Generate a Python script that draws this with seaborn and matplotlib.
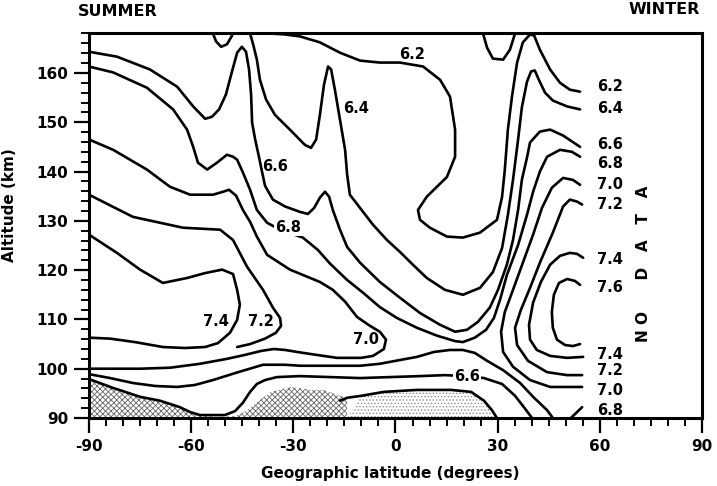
import numpy as np
import pandas as pd
import matplotlib
matplotlib.use("Agg")
import matplotlib.pyplot as plt
import seaborn as sns
from matplotlib.ticker import MultipleLocator

# ---------------- data: contour lines (latitude deg, altitude km) ----------------
c62_dip_w_lat = [-53.6, -52.7, -51.2, -49.5, -48.3, -47.7]
c62_dip_w_alt = [168.0, 166.4, 165.3, 165.8, 167.2, 168.0]

c62_lat = [-36.8, -32.4, -28.0, -22.2, -16.3, -10.4, -4.6, 1.3, 8.1, 13.1, 16.0, 17.5, 17.5, 15.1, 9.2,
           6.6, 7.2, 10.1, 15.1, 19.8, 24.8, 29.8, 31.3, 32.1, 33.0, 34.2, 35.7, 37.4, 39.5, 40.7, 42.4,
           45.4, 48.3, 51.2, 54.2]
c62_alt = [168.0, 167.8, 167.4, 166.2, 164.1, 162.5, 162.1, 162.1, 161.3, 158.6, 155.2, 148.5, 143.0,
           138.9, 134.9, 132.2, 130.2, 128.6, 126.8, 126.6, 127.6, 130.2, 134.9, 140.4, 148.5, 155.2,
           162.1, 166.2, 167.8, 167.6, 164.7, 160.7, 158.0, 156.6, 156.2]

c62_dip_e_lat = [25.7, 26.9, 28.6, 31.6, 33.6, 35.1]
c62_dip_e_alt = [168.0, 165.1, 162.9, 162.7, 164.7, 168.0]

c64_lat = [-42.7, -41.8, -40.7, -39.8, -38.0, -35.4, -31.0, -26.6, -24.8, -23.3, -22.2, -21.0, -19.8,
           -18.9, -17.8, -16.3, -14.8, -14.2, -13.4, -10.4, -6.6, -2.5, 1.3, 5.1, 9.2, 14.5, 19.8, 24.8,
           28.6, 31.3, 33.0, 34.5, 36.0, 37.1, 38.6, 39.8, 40.9, 42.1, 43.9, 46.2, 50.4, 54.2]
c64_alt = [168.0, 165.8, 162.7, 158.6, 154.6, 151.5, 148.5, 145.4, 144.8, 146.5, 151.5, 157.6, 161.3,
           160.7, 156.6, 150.5, 144.4, 139.4, 135.3, 132.6, 129.2, 126.1, 123.7, 121.1, 118.4, 116.0,
           115.0, 116.4, 119.6, 124.5, 131.2, 138.3, 146.5, 153.0, 158.2, 160.3, 160.5, 158.6, 156.0,
           154.4, 153.2, 152.6]

c64_low_lat = [-16.3, -14.2, -10.1, -3.4, 6.3, 16.3, 22.2, 26.0, 28.3, 29.8]
c64_low_alt = [93.5, 94.1, 94.5, 95.3, 95.7, 95.7, 95.3, 93.5, 91.6, 90.0]

c66_lat = [-90.0, -81.8, -72.1, -64.1, -59.4, -55.9, -53.9, -51.8, -49.8, -48.0, -46.5, -45.1, -43.9,
           -43.0, -42.4, -42.1, -41.2, -40.1, -39.2, -38.3, -36.0, -32.4, -28.0, -25.7, -23.9, -22.2,
           -20.7, -19.5, -18.4, -16.3, -14.2, -10.4, -4.6, 1.3, 7.2, 13.1, 17.5, 21.0, 24.2, 27.7, 30.1,
           32.7, 34.5, 36.0, 37.1, 38.6, 39.5, 42.4, 45.4, 49.2, 54.2]
c66_alt = [164.3, 163.3, 160.7, 157.2, 153.2, 150.7, 151.1, 152.6, 155.6, 160.3, 164.1, 165.3, 164.3,
           160.7, 155.6, 149.9, 146.5, 143.0, 140.0, 137.1, 134.3, 132.9, 131.8, 131.4, 132.6, 134.7,
           135.9, 134.9, 132.2, 128.2, 124.7, 121.5, 117.6, 114.4, 111.3, 108.9, 107.5, 107.9, 109.5,
           112.4, 116.0, 121.1, 126.1, 132.2, 138.3, 142.8, 145.9, 148.1, 148.5, 147.3, 145.0]

c66_low_lat = [-90.0, -82.9, -75.0, -69.1, -63.3, -60.3, -57.4, -53.6, -50.1, -47.1, -44.8, -42.7, -40.7,
               -38.3, -34.8, -28.0, -19.2, -10.4, -1.6, 7.2, 14.5, 20.4, 26.0, 31.3, 35.1, 37.7, 40.1]
c66_low_alt = [97.9, 96.1, 94.3, 93.5, 92.2, 91.2, 90.6, 90.6, 90.6, 91.4, 93.1, 95.3, 96.9, 97.7, 98.3,
               98.5, 98.3, 98.1, 98.3, 98.5, 98.7, 98.5, 98.1, 96.9, 94.5, 92.2, 90.0]

c68_lat = [-90.0, -82.9, -73.0, -65.3, -61.2, -59.4, -58.0, -55.3, -52.4, -49.5, -47.7, -46.5, -44.8,
           -42.7, -40.7, -37.7, -33.9, -27.2, -22.8, -19.2, -14.2, -9.5, -4.6, 0.4, 6.3, 12.2, 17.5, 19.8,
           23.3, 26.6, 28.9, 30.7, 32.7, 36.0, 38.6, 40.4, 42.4, 44.5, 48.3, 51.8, 54.2]
c68_alt = [161.3, 160.1, 157.0, 152.6, 148.5, 145.0, 141.8, 140.4, 141.8, 143.4, 143.0, 142.4, 139.8,
           136.3, 132.2, 129.6, 128.2, 126.6, 124.1, 121.3, 118.0, 115.4, 112.5, 110.3, 108.3, 106.7,
           105.6, 105.4, 106.3, 107.9, 110.3, 114.0, 119.0, 125.1, 131.2, 135.9, 140.0, 143.0, 144.4,
           144.0, 143.0]

c68_low_lat = [-90.0, -83.8, -77.1, -70.6, -64.1, -58.9, -53.6, -46.2, -38.9, -32.4, -28.0, -19.2, -10.4,
               -4.6, 1.6, 6.3, 11.3, 16.0, 19.8, 23.3, 26.9, 31.6, 36.6, 40.4, 44.5, 46.2]
c68_low_alt = [98.9, 98.1, 97.1, 96.5, 96.3, 96.7, 97.7, 99.3, 100.8, 100.8, 100.6, 100.6, 100.6, 101.0,
               101.8, 102.4, 103.4, 103.8, 103.8, 103.2, 101.6, 99.7, 97.1, 94.3, 91.6, 90.0]

c68_hook_lat = [51.5, 53.0, 54.8]
c68_hook_alt = [90.0, 91.0, 92.2]

c70_lat = [-90.0, -82.9, -73.0, -66.2, -60.3, -53.6, -50.6, -48.9, -46.8, -44.8, -42.7, -40.7, -37.7,
           -31.0, -22.2, -18.4, -14.8, -11.3, -7.5, -4.6, -2.8, -3.4, -6.6, -10.1, -17.2, -25.1, -28.9,
           -32.4, -35.7, -39.5, -44.2, -49.5, -57.4, -66.2, -75.0, -83.8, -90.0]
c70_alt = [146.5, 144.4, 140.4, 136.9, 135.3, 135.3, 135.9, 136.3, 135.1, 132.2, 129.8, 126.8, 123.1,
           120.1, 117.6, 116.0, 113.6, 110.5, 108.7, 107.5, 105.9, 104.0, 102.6, 102.2, 102.2, 103.0,
           103.4, 103.8, 104.0, 103.6, 102.8, 102.0, 101.0, 100.2, 100.0, 100.0, 100.0]

c70_e_lat = [54.2, 52.1, 49.2, 45.9, 43.0, 40.4, 37.4, 34.5, 32.1, 31.0, 31.6, 34.5, 39.5, 45.4, 54.8]
c70_e_alt = [137.3, 138.3, 138.7, 136.7, 132.6, 127.2, 121.5, 116.0, 111.5, 107.5, 103.4, 100.4, 97.7,
             96.3, 96.3]

c72_lat = [-90.0, -77.1, -62.4, -51.5, -47.7, -43.6, -38.9, -36.0, -33.9, -33.6, -35.1, -38.3, -42.7, -46.5]
c72_alt = [135.3, 130.8, 128.6, 128.2, 126.1, 120.7, 116.0, 112.4, 110.3, 108.7, 107.3, 106.1, 105.0, 104.4]

c72_e_lat = [54.8, 53.3, 51.2, 49.2, 46.2, 42.4, 39.5, 36.8, 35.1, 35.7, 38.9, 44.5, 50.4, 54.8]
c72_e_alt = [133.3, 133.9, 134.3, 132.9, 127.6, 121.5, 116.4, 111.9, 108.3, 104.8, 101.6, 99.3, 98.7, 98.7]

c74_lat = [-90.0, -81.8, -75.0, -68.3, -61.2, -55.9, -50.9, -47.7, -46.5, -45.7, -46.5, -48.6, -52.1,
           -55.9, -61.8, -68.3, -76.5, -83.8, -90.0]
c74_alt = [127.2, 123.5, 120.1, 117.4, 118.4, 119.4, 120.1, 119.2, 116.0, 113.0, 109.9, 107.3, 105.2,
           104.4, 104.2, 104.4, 105.4, 106.1, 106.3]

c74_e_lat = [55.1, 53.3, 51.2, 48.3, 45.4, 42.7, 40.4, 39.2, 39.5, 41.5, 45.4, 50.4, 55.1]
c74_e_alt = [122.5, 123.3, 123.5, 122.9, 121.1, 117.6, 113.4, 108.9, 105.9, 103.8, 102.6, 102.2, 102.4]

c76_e_lat = [54.2, 52.7, 50.4, 48.0, 46.5, 45.9, 46.2, 47.4, 49.8, 52.1, 54.2]
c76_e_alt = [117.0, 117.8, 118.2, 117.4, 115.0, 111.5, 108.3, 105.9, 104.8, 104.6, 105.0]

# stippled region (upper boundary)
stip_lat = [-90.0, -82.9, -75.0, -69.1, -63.3, -60.3, -57.4, -53.0, -47.1, -44.5, -40.4, -36.6, -30.7,
            -24.8, -21.0, -17.2, -14.2, -10.1, -3.4, 6.3, 16.3, 22.2, 26.0, 28.3, 29.8]
stip_alt = [97.9, 96.1, 94.3, 93.5, 92.2, 91.2, 90.6, 90.2, 90.4, 91.2, 93.3, 95.3, 96.3, 95.7, 95.7,
            94.7, 94.1, 94.5, 95.3, 95.7, 95.7, 95.3, 93.5, 91.6, 90.0]

# contour labels
inner_text = ["6.2", "6.4", "6.6", "6.8", "7.4", "7.2", "7.0", "6.6"]
inner_lat = [4.9, -11.6, -35.4, -31.6, -52.7, -39.5, -8.7, 21.0]
inner_alt = [163.7, 152.7, 141.0, 128.6, 109.5, 109.5, 105.9, 98.5]
inner_boxed = [False, False, False, True, False, False, False, True]

right_text = ["6.2", "6.4", "6.6", "6.8", "7.0", "7.2", "7.4", "7.6", "7.4", "7.2", "7.0", "6.8"]
right_alt = [157.2, 152.8, 145.4, 141.6, 137.3, 133.3, 122.1, 116.4, 102.8, 99.7, 95.5, 91.6]
right_lat = 59.2

x_ticks = [-90, -60, -30, 0, 30, 60, 90]
y_ticks = [90, 100, 110, 120, 130, 140, 150, 160]

# ---------------- build table ----------------
lines = [
    ("6.2 dip W", 6.2, c62_dip_w_lat, c62_dip_w_alt),
    ("6.2", 6.2, c62_lat, c62_alt),
    ("6.2 dip E", 6.2, c62_dip_e_lat, c62_dip_e_alt),
    ("6.4", 6.4, c64_lat, c64_alt),
    ("6.4 low", 6.4, c64_low_lat, c64_low_alt),
    ("6.6", 6.6, c66_lat, c66_alt),
    ("6.6 low", 6.6, c66_low_lat, c66_low_alt),
    ("6.8", 6.8, c68_lat, c68_alt),
    ("6.8 low", 6.8, c68_low_lat, c68_low_alt),
    ("6.8 hook", 6.8, c68_hook_lat, c68_hook_alt),
    ("7.0", 7.0, c70_lat, c70_alt),
    ("7.0 E", 7.0, c70_e_lat, c70_e_alt),
    ("7.2", 7.2, c72_lat, c72_alt),
    ("7.2 E", 7.2, c72_e_lat, c72_e_alt),
    ("7.4", 7.4, c74_lat, c74_alt),
    ("7.4 E", 7.4, c74_e_lat, c74_e_alt),
    ("7.6 E", 7.6, c76_e_lat, c76_e_alt),
]
rows = []
for name, lev, la, al in lines:
    for i, (x, y) in enumerate(zip(la, al)):
        rows.append({"line": name, "level": lev, "order": i, "lat": x, "alt": y})
df = pd.DataFrame(rows)

# ---------------- plot ----------------
sns.set_style("ticks")
plt.rcParams["font.family"] = ["DejaVu Sans"]
plt.rcParams["axes.unicode_minus"] = False
plt.rcParams["hatch.linewidth"] = 0.6
for key in ["text.color", "axes.labelcolor", "xtick.color", "ytick.color", "axes.edgecolor"]:
    plt.rcParams[key] = "black"

fig = plt.figure(figsize=(7.17, 4.86), dpi=100)
ax = fig.add_axes([0.1241, 0.1399, 0.855, 0.7912])

sl = np.array(stip_lat)
sa = np.array(stip_alt)
ax.fill_between(sl, 90, sa, where=sl <= -12, interpolate=True, facecolor="none",
                edgecolor="0.4", hatch="xxxxxx", linewidth=0, zorder=1)
ax.fill_between(sl, 90, sa, where=sl >= -12, interpolate=True, facecolor="none",
                edgecolor="0.55", hatch=".....", linewidth=0, zorder=1)

sns.lineplot(data=df, x="lat", y="alt", units="line", estimator=None, sort=False,
             color="black", linewidth=1.9, ax=ax, legend=False, zorder=3,
             solid_joinstyle="round", solid_capstyle="round")

ax.set_xlim(-90, 90)
ax.set_ylim(90, 168)
ax.set_xticks(x_ticks)
ax.set_xticklabels([str(v) for v in x_ticks])
ax.set_yticks(y_ticks)
ax.set_yticklabels([str(v) for v in y_ticks])
ax.xaxis.set_minor_locator(MultipleLocator(5))
ax.yaxis.set_minor_locator(MultipleLocator(2))
ax.tick_params(which="major", direction="out", length=11, width=1.6, labelsize=11, pad=4,
               top=False, right=False, colors="black")
ax.tick_params(which="minor", direction="out", length=6, width=1.4, top=False, right=False,
               colors="black")
for lab in ax.get_xticklabels() + ax.get_yticklabels():
    lab.set_fontweight("bold")
for s in ax.spines.values():
    s.set_visible(True)
    s.set_linewidth(2.2)
    s.set_color("black")

ax.set_xlabel("Geographic latitude (degrees)", fontsize=11, fontweight="bold")
ax.xaxis.set_label_coords(0.491, -0.125)
ax.xaxis.label.set_va("top")
ax.set_ylabel("Altitude (km)", fontsize=11, fontweight="bold")
ax.yaxis.set_label_coords(-0.118, 0.554)

for t, x, y, boxed in zip(inner_text, inner_lat, inner_alt, inner_boxed):
    kw = dict(ha="center", va="center", fontsize=10.5, fontweight="bold", zorder=5)
    if boxed:
        kw["bbox"] = dict(facecolor="white", edgecolor="none", pad=0.6)
    ax.text(x, y, t, **kw)
for t, y in zip(right_text, right_alt):
    ax.text(right_lat, y, t, ha="left", va="center", fontsize=10.5, fontweight="bold", zorder=5)

ax.text(72.7, 121.2, "N O      D   A   T   A", rotation=90, ha="center", va="center",
        fontsize=11, fontweight="bold")

fig.text(78 / 717, 1 - 12 / 486, "SUMMER", ha="left", va="center", fontsize=11.5, fontweight="bold")
fig.text(700 / 717, 1 - 10 / 486, "WINTER", ha="right", va="center", fontsize=11.5, fontweight="bold")

fig.savefig("out.png", dpi=100)
